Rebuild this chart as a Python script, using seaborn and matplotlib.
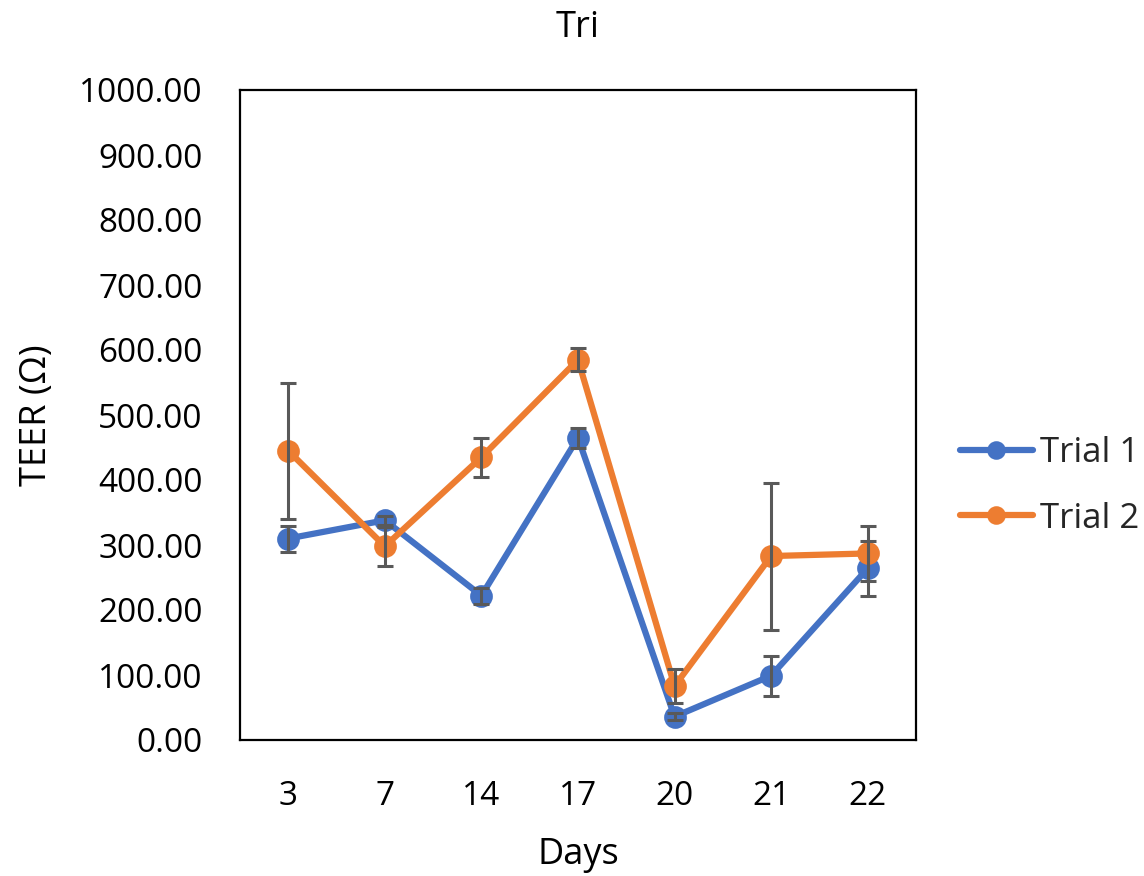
import matplotlib
matplotlib.use("Agg")
import matplotlib.pyplot as plt
import seaborn as sns
import numpy as np
import pandas as pd

days = ["3", "7", "14", "17", "20", "21", "22"]
trial1 = [310, 338, 222, 465, 36, 99, 264]
trial1_err = [20, 7, 12, 15, 5, 31, 42]
trial2 = [445, 298, 435, 585, 83, 283, 287]
trial2_err = [105, 30, 30, 18, 26, 113, 43]
series_names = ["Trial 1", "Trial 2"]
colors = ["#4472C4", "#ED7D31"]

sns.set_theme(style="white")
plt.rcParams["font.family"] = ["Open Sans", "DejaVu Sans"]

df = pd.DataFrame({
    "Day": days * 2,
    "TEER": trial1 + trial2,
    "Trial": [series_names[0]] * len(days) + [series_names[1]] * len(days),
})

fig = plt.figure(figsize=(11.44, 8.76), dpi=100)
ax = fig.add_axes([240 / 1144, 1 - 740 / 876, 676 / 1144, 650 / 876])

pos = np.arange(len(days))
for vals, errs in [(trial1, trial1_err), (trial2, trial2_err)]:
    ax.errorbar(pos, vals, yerr=errs, fmt="none", ecolor="#595959",
                elinewidth=2.2, capsize=5.5, capthick=2.2, zorder=1)

sns.pointplot(data=df, x="Day", y="TEER", hue="Trial", order=days,
              palette=colors, markers="o", linestyles="-", errorbar=None,
              linewidth=4.5, markersize=13, ax=ax)
for art in ax.collections + ax.lines:
    if art.get_zorder() < 2:
        art.set_zorder(3)

ax.set_xlim(-0.5, len(days) - 0.5)
ax.set_ylim(0, 1000)
ax.set_yticks(np.arange(0, 1001, 100))
ax.set_yticklabels([f"{v:.2f}" for v in np.arange(0, 1001, 100)])
ax.tick_params(axis="y", length=0, labelsize=24, pad=27, colors="black")
ax.tick_params(axis="x", length=0, labelsize=24, pad=29, colors="black")

for sp in ax.spines.values():
    sp.set_visible(True)
    sp.set_color("black")
    sp.set_linewidth(1.6)

ax.set_xlabel("Days", fontsize=26, labelpad=17, color="black")
ax.set_ylabel("TEER (Ω)", fontsize=26, labelpad=17, color="black")
ax.set_title("Tri", fontsize=26, pad=38, color="black")

handles, labels = ax.get_legend_handles_labels()
leg = fig.legend(handles, labels, loc="center left",
                 bbox_to_anchor=(960 / 1144, 1 - 486 / 876), frameon=False,
                 fontsize=25, handlelength=2.1, handletextpad=0.2,
                 labelspacing=0.9, borderpad=0, borderaxespad=0)
for h in leg.legend_handles:
    if hasattr(h, "set_markersize"):
        h.set_markersize(10)
if ax.get_legend():
    ax.get_legend().remove()

fig.savefig("out.png", dpi=100)
